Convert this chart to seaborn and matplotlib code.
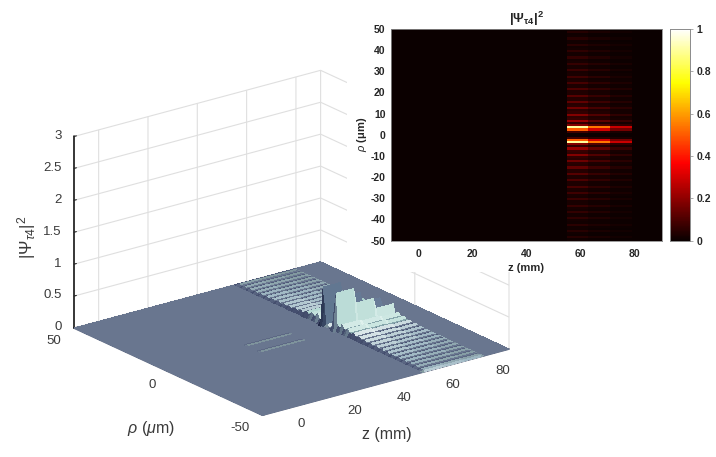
import numpy as np
import pandas as pd
import seaborn as sns
import matplotlib
matplotlib.use("Agg")
import matplotlib.pyplot as plt
from matplotlib.colors import LinearSegmentedColormap
from matplotlib.patches import Rectangle
from mpl_toolkits.mplot3d import proj3d

sns.set_theme(style="white")
plt.rcParams['font.family'] = ['Liberation Sans', 'DejaVu Sans']
plt.rcParams['mathtext.fontset'] = 'custom'
plt.rcParams['mathtext.rm'] = 'Liberation Sans'
plt.rcParams['mathtext.it'] = 'Liberation Sans:italic'
plt.rcParams['mathtext.bf'] = 'Liberation Sans:bold'

# ---- data ----
z_cells = np.arange(-9.5, 90, 1.0)            # mm
rho_half = np.arange(0.5, 50, 1.0)            # um
# heat-map amplitude by |rho|
fringe_half = [0.0, 0.08, 0.5, 0.9, 0.18, 0.06,
               0.21, 0.07, 0.06, 0.18, 0.06, 0.05, 0.15, 0.05, 0.045,
               0.13, 0.04, 0.04, 0.115, 0.035, 0.035, 0.10, 0.03, 0.03,
               0.09, 0.03, 0.025, 0.08, 0.025, 0.022, 0.072, 0.022, 0.02,
               0.066, 0.02, 0.018, 0.06, 0.018, 0.016, 0.055, 0.016, 0.014,
               0.05, 0.014, 0.012, 0.045, 0.012, 0.01, 0.04, 0.01]
# surface height amplitude by |rho|
ripple_half = [0.0, 0.05, 0.5, 0.85, 0.12, 0.08,
               0.20, 0.11, 0.11, 0.16, 0.09, 0.09, 0.125, 0.07, 0.07,
               0.10, 0.055, 0.055, 0.085, 0.047, 0.047, 0.075, 0.041, 0.041,
               0.068, 0.037, 0.037, 0.062, 0.034, 0.034, 0.058, 0.032, 0.032,
               0.054, 0.03, 0.03, 0.05, 0.028, 0.028, 0.046, 0.025, 0.025,
               0.042, 0.023, 0.023, 0.038, 0.021, 0.021, 0.034, 0.015]
segment_start = [55, 63, 71]
segment_end = 79
segment_gain = [1.0, 0.6, 0.32]      # central lobes
ripple_gain3d = [1.0, 0.85, 0.7]     # outer ripples in the 3-D view
streak_start = 24
streak_end = 42
streak_height = 0.006
surface_scale = 0.7
z_ticks = [0, 20, 40, 60, 80]
rho_ticks3d = [-50, 0, 50]
rho_labels3d = ['-50', '0', '50']
psi_ticks = [0, 0.5, 1, 1.5, 2, 2.5, 3]
psi_labels = ['0', '0.5', '1', '1.5', '2', '2.5', '3']
rho_ticks2d = [50, 40, 30, 20, 10, 0, -10, -20, -30, -40, -50]
cbar_ticks = [0, 0.2, 0.4, 0.6, 0.8, 1]
cbar_labels = ['0', '0.2', '0.4', '0.6', '0.8', '1']

W, H = 716, 457
TEXT = '#3a3a3a'

# ---- field assembled from the arrays ----
rho_cells = np.r_[rho_half[::-1], -rho_half]
profile = np.r_[np.array(fringe_half)[::-1], np.array(fringe_half)]
profile3 = np.r_[np.array(ripple_half)[::-1], np.array(ripple_half)]


def gain_line(values):
    g = np.zeros_like(z_cells)
    for s, e, v in zip(segment_start, segment_start[1:] + [segment_end], values):
        g[(z_cells >= s) & (z_cells < e)] = v
    return g


gain = gain_line(segment_gain)
gain3 = gain_line(ripple_gain3d)
field = np.outer(profile, gain)
frame = pd.DataFrame(field, index=rho_cells, columns=z_cells)

fig = plt.figure(figsize=(W / 100, H / 100), dpi=100, facecolor='white')


def rect(x0, y0, x1, y1):
    return [x0 / W, 1 - y1 / H, (x1 - x0) / W, (y1 - y0) / H]


# ---- 3-D surface ----
ax3 = fig.add_axes([0.1, 0.1, 0.6 * H / W, 0.6], projection='3d', proj_type='ortho',
                   computed_zorder=False)
Lx, Ly, Lz = 309, 310, 204
ax3.view_init(elev=20.63, azim=-127.29)
ax3.set_box_aspect((Lx, Ly, Lz))
ax3.set_xlim(-10, 90, view_margin=0)
ax3.set_ylim(-50, 50, view_margin=0)
ax3.set_zlim(0, 3, view_margin=0)

central = np.abs(rho_cells) < 5.5
height = np.where(central[:, None], np.outer(profile3, gain), np.outer(profile3, gain3)) * surface_scale
streak_cols = (z_cells >= streak_start) & (z_cells < streak_end)
streak_rows = np.isclose(np.abs(rho_cells), 3.5)
height[np.ix_(streak_rows, streak_cols)] = streak_height

Zs = np.r_[-10, z_cells, 90]
Rs = np.r_[50, rho_cells, -50]
H3 = np.pad(height, 1)
ZZ, RR = np.meshgrid(Zs, Rs)

# face lighting from cell normals, in box proportions
px_x, px_y, px_z = Lx / 100, Ly / 100, Lz / 3
dzdx = 0.5 * ((H3[:-1, 1:] - H3[:-1, :-1]) + (H3[1:, 1:] - H3[1:, :-1])) * px_z / (np.diff(Zs) * px_x)[None, :]
dzdy = 0.5 * ((H3[1:, :-1] - H3[:-1, :-1]) + (H3[1:, 1:] - H3[:-1, 1:])) * px_z / (np.diff(Rs) * px_y)[:, None]
norm = np.sqrt(dzdx ** 2 + dzdy ** 2 + 1)
nx, ny, nz = -dzdx / norm, -dzdy / norm, 1 / norm
light = np.array([0.35, -0.8, 0.5])
light = light / np.linalg.norm(light)
inten = nx * light[0] + ny * light[1] + nz * light[2]
i0 = light[2]
to_unit = lambda v: (v + 0.6) / 1.6
ripple_shade = LinearSegmentedColormap.from_list('ripple', [
    (0.0, '#3a4360'), (to_unit(0.2), '#465070'), (to_unit(i0), '#69768f'),
    (to_unit(0.62), '#82999f'), (to_unit(0.72), '#9db6c2'), (to_unit(0.85), '#d0dfe3'), (1.0, '#f0f7f7')])
wall_shade = LinearSegmentedColormap.from_list('wall', [
    (0.0, '#3f4a68'), (to_unit(0.3), '#6f8494'), (to_unit(0.6), '#93b8b8'),
    (to_unit(0.8), '#b2d7d1'), (1.0, '#e2f3ef')])
u = np.clip(to_unit(inten), 0, 1)
faces = ripple_shade(u)
face_h = 0.25 * (H3[:-1, :-1] + H3[1:, :-1] + H3[:-1, 1:] + H3[1:, 1:])
rho_face = 0.5 * (RR[:-1, :-1] + RR[1:, :-1])
wall = (face_h > 0.04) & (np.abs(rho_face) < 13)
faces[wall] = wall_shade(u)[wall]

# the rear lobe stands in the shadow of the front one
rear = (face_h > 0.04) & (rho_face > 0) & (rho_face < 5.5)
faces[rear, :3] *= np.array([0.5, 0.53, 0.66])

# surface drawn strip by strip, back to front
for row in range(H3.shape[0] - 1):
    ax3.plot_surface(ZZ[row:row + 2], RR[row:row + 2], H3[row:row + 2], facecolors=faces[row:row + 1],
                     rstride=1, cstride=1, shade=False, linewidth=0, edgecolor='none',
                     antialiased=False, zorder=row + 1)

for axis in (ax3.xaxis, ax3.yaxis, ax3.zaxis):
    axis.set_pane_color((1, 1, 1, 0))
    axis._axinfo['grid'].update(color='#dfdfdf', linewidth=0.8)
    axis._axinfo['tick'].update(inward_factor=0.0, outward_factor=0.12)
    axis._axinfo['tick']['linewidth'] = {True: 0.8, False: 0.5}
    axis._axinfo['tick']['color'] = '#333333'
ax3.xaxis.line.set_color('#555f78')
ax3.yaxis.line.set_color('#555f78')
ax3.zaxis.line.set_color('black')
ax3.zaxis.line.set_linewidth(1.1)
ax3.set_xticks(z_ticks)
ax3.set_yticks(rho_ticks3d)
ax3.set_yticklabels(rho_labels3d)
ax3.set_zticks(psi_ticks)
ax3.set_zticklabels(psi_labels)
ax3.tick_params(axis='x', labelsize=9.5, labelcolor=TEXT, pad=2)
ax3.tick_params(axis='y', labelsize=9.5, labelcolor=TEXT, pad=1)
ax3.tick_params(axis='z', labelsize=9.5, labelcolor=TEXT, pad=-3)
for lab in ax3.get_xticklabels():
    lab.set_ha('left')
    lab.set_va('center')
for lab in ax3.get_yticklabels():
    lab.set_ha('right')
    lab.set_va('center')
for lab in ax3.get_zticklabels():
    lab.set_ha('right')
    lab.set_va('center')
ax3.grid(True)

# fit the box on the reference corners
targets = {'left': (74, 328), 'right': (509, 348)}


def corner(x, y, z):
    X, Y, _ = proj3d.proj_transform(x, y, z, ax3.get_proj())
    return ax3.transData.transform((X, Y))


for _ in range(3):
    fig.canvas.draw()
    p0 = corner(-10, 50, 0)
    p1 = corner(90, -50, 0)
    k = (targets['right'][0] - targets['left'][0]) / (p1[0] - p0[0])
    bb = ax3.get_position()
    S = bb.width * W * k
    cx = (bb.x0 + bb.width / 2) * W
    cy = (bb.y0 + bb.height / 2) * H
    newcx = targets['left'][0] + (cx - p0[0]) * k
    newcy = (H - targets['left'][1]) + (cy - p0[1]) * k
    ax3.set_position([(newcx - S / 2) / W, (newcy - S / 2) / H, S / W, S / H])

# inset occupies its own white area on top of the 3-D box
fig.add_artist(Rectangle((347 / W, 1 - 272 / H), (W - 347) / W, 272 / H,
                         transform=fig.transFigure, facecolor='white', edgecolor='none', zorder=1))

fig.text(27 / W, 1 - 237 / H, r'$|\Psi_{\tau 4}|^2$', rotation=90, fontsize=12.5, color=TEXT,
         ha='center', va='center', zorder=3)
fig.text(151 / W, 1 - 429 / H, r'$\rho$ ($\mu$m)', fontsize=11.5, color=TEXT, ha='center', va='center', zorder=3)
fig.text(387 / W, 1 - 435 / H, 'z (mm)', fontsize=11.5, color=TEXT, ha='center', va='center', zorder=3)

# ---- heat map inset ----
axh = fig.add_axes(rect(391, 29, 661.5, 240.5), zorder=2)
cax = fig.add_axes(rect(670, 29, 689.5, 240.5), zorder=2)
sns.heatmap(frame, ax=axh, cmap='hot', vmin=0, vmax=1, cbar_ax=cax,
            xticklabels=False, yticklabels=False)
axh.set_xticks([(v + 10) for v in z_ticks])
axh.set_xticklabels([str(v) for v in z_ticks], rotation=0)
axh.set_yticks([50 - v for v in rho_ticks2d])
axh.set_yticklabels([str(v) for v in rho_ticks2d], rotation=0)
axh.tick_params(axis='x', labelsize=7.5, labelcolor='#262626', length=0, pad=6)
axh.tick_params(axis='y', labelsize=7.5, labelcolor='#262626', length=0, pad=4)
for lab in axh.get_xticklabels() + axh.get_yticklabels():
    lab.set_fontweight('bold')
for sp in axh.spines.values():
    sp.set_visible(True)
    sp.set_color('#8a8a8a')
    sp.set_linewidth(0.6)
axh.set_xlabel('z (mm)', fontsize=8, fontweight='bold', color='#262626', labelpad=3)
axh.set_ylabel(r'$\rho$ ($\mathbf{\mu}$m)', fontsize=8, fontweight='bold', color='#262626', labelpad=1)
axh.set_title(r'$\mathbf{|\Psi_{\tau 4}|^2}$', fontsize=9.5, color='#262626', pad=4)

cax.set_yticks(cbar_ticks)
cax.set_yticklabels(cbar_labels)
cax.tick_params(axis='y', labelsize=7.5, labelcolor='#262626', length=2, width=0.5,
                color='#8a8a8a', direction='out', pad=3)
for lab in cax.get_yticklabels():
    lab.set_fontweight('bold')
for sp in cax.spines.values():
    sp.set_visible(True)
    sp.set_color('#8a8a8a')
    sp.set_linewidth(0.6)

fig.savefig('out.png', dpi=100, facecolor='white')
